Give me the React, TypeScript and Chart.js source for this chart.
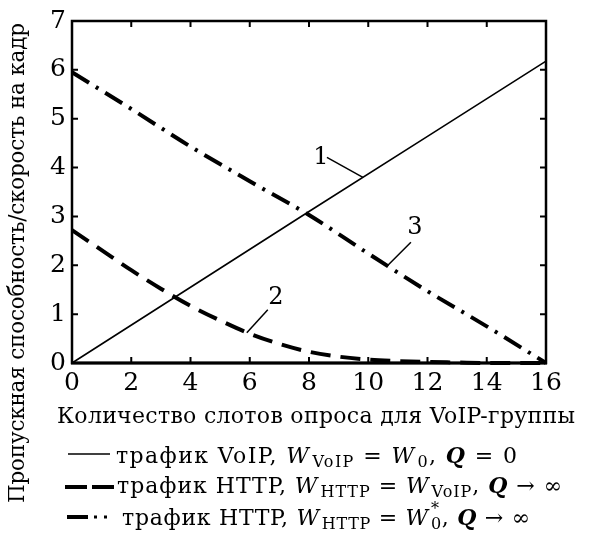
import React, { useEffect, useRef } from "react";
import { Chart, registerables } from "chart.js";

Chart.register(...registerables);

const FONT = "'DejaVu Serif', 'Liberation Serif', serif";

const xTicks = [0, 2, 4, 6, 8, 10, 12, 14, 16];
const yTicks = [0, 1, 2, 3, 4, 5, 6, 7];

const voipX = [0, 4, 8, 12, 16];
const voipY = [0, 1.55, 3.1, 4.64, 6.18];

const httpEqX = [0, 1, 2, 3, 4, 5, 6, 7, 8, 9, 10, 11, 12, 13, 14, 15, 16];
const httpEqY = [2.72, 2.31, 1.9, 1.52, 1.17, 0.87, 0.6, 0.39, 0.23, 0.13, 0.07, 0.04, 0.02, 0.01, 0, 0, 0];

const httpStarX = [0, 2, 4, 6, 8, 10, 12, 14, 16];
const httpStarY = [5.95, 5.2, 4.43, 3.72, 3.03, 2.24, 1.47, 0.75, 0];

const xTitle = "Количество слотов опроса для VoIP-группы";
const yTitle = "Пропускная способность/скорость на кадр";

// curve number labels: anchor on curve (data coords) + pixel offsets
const curveLabels = [
  { text: "1", ax: 9.82, ay: 3.8, lx: -36, ly: -20, tx: -42, ty: -20 },
  { text: "2", ax: 5.9, ay: 0.62, lx: 21, ly: -23, tx: 29, ty: -35 },
  { text: "3", ax: 10.63, ay: 1.98, lx: 24, ly: -24, tx: 28, ty: -38 },
];

type Run = [string, string];
const legendRow1: Run[] = [["трафик VoIP, ", "r"], ["W", "i"], ["VoIP", "sub"], [" = ", "r"], ["W", "i"], ["0", "sub"], [", ", "r"], ["Q", "bi"], [" = 0", "r"]];
const legendRow2: Run[] = [["трафик HTTP, ", "r"], ["W", "i"], ["HTTP", "sub"], [" = ", "r"], ["W", "i"], ["VoIP", "sub"], [", ", "r"], ["Q", "bi"], [" → ∞", "r"]];
const legendRow3: Run[] = [["трафик HTTP, ", "r"], ["W", "i"], ["HTTP", "sub"], [" = ", "r"], ["W", "i"], ["0", "subsup"], [", ", "r"], ["Q", "bi"], [" → ∞", "r"]];
const legendRows = [legendRow1, legendRow2, legendRow3];

const W = 589;
const H = 534;

function fontFor(kind: string) {
  if (kind === "i") return `italic 22px ${FONT}`;
  if (kind === "bi") return `italic bold 22px ${FONT}`;
  if (kind === "sub" || kind === "subsup") return `16px ${FONT}`;
  return `22px ${FONT}`;
}

function drawFitted(ctx: any, text: string, font: string, x: number, y: number, target: number) {
  ctx.font = font;
  ctx.letterSpacing = "0px";
  const w = ctx.measureText(text).width;
  const n = Array.from(text).length;
  const s = (target - w) / Math.max(1, n - 1);
  ctx.letterSpacing = `${s}px`;
  ctx.fillText(text, x, y);
  ctx.letterSpacing = "0px";
}

function drawRuns(ctx: any, runs: Run[], x0: number, base: number, target: number) {
  let natural = 0;
  let count = 0;
  ctx.letterSpacing = "0px";
  for (const [t, kind] of runs) {
    ctx.font = fontFor(kind);
    natural += ctx.measureText(t).width + (kind === "sub" || kind === "subsup" ? 2 : 0);
    count += Array.from(t).length;
  }
  const s = (target - natural) / Math.max(1, count - 1);
  let x = x0;
  for (const [t, kind] of runs) {
    ctx.font = fontFor(kind);
    ctx.letterSpacing = "0px";
    const wn = ctx.measureText(t).width;
    const adv = wn + s * Array.from(t).length;
    ctx.letterSpacing = `${s}px`;
    if (kind === "sub") {
      ctx.fillText(t, x + 2, base + 4);
      x += adv + 2;
    } else if (kind === "subsup") {
      ctx.fillText(t, x + 2, base + 4);
      ctx.fillText("*", x + 2, base - 11);
      x += adv + 2;
    } else {
      ctx.fillText(t, x, base);
      x += adv;
    }
  }
  ctx.letterSpacing = "0px";
}

const decorPlugin = {
  id: "decor",
  afterDatasetsDraw(chart: any) {
    const ctx = chart.ctx;
    const { left, right, top, bottom } = chart.chartArea;
    const xs = chart.scales.x;
    const ys = chart.scales.y;
    ctx.save();
    ctx.strokeStyle = "#000";
    ctx.setLineDash([]);
    // frame
    ctx.lineWidth = 2.5;
    ctx.strokeRect(left, top, right - left, bottom - top);
    ctx.lineWidth = 3;
    ctx.beginPath();
    ctx.moveTo(left - 1, bottom);
    ctx.lineTo(right + 1, bottom);
    ctx.stroke();
    // inward ticks
    ctx.lineWidth = 2;
    const tl = 6;
    ctx.beginPath();
    for (const v of xTicks) {
      const px = xs.getPixelForValue(v);
      ctx.moveTo(px, bottom);
      ctx.lineTo(px, bottom - tl);
      ctx.moveTo(px, top);
      ctx.lineTo(px, top + tl);
    }
    for (const v of yTicks) {
      const py = ys.getPixelForValue(v);
      ctx.moveTo(left, py);
      ctx.lineTo(left + tl, py);
      ctx.moveTo(right, py);
      ctx.lineTo(right - tl, py);
    }
    ctx.stroke();

    // curve labels
    ctx.lineWidth = 1.5;
    ctx.fillStyle = "#000";
    ctx.font = `24px ${FONT}`;
    ctx.textAlign = "center";
    ctx.textBaseline = "middle";
    for (const c of curveLabels) {
      const ax = xs.getPixelForValue(c.ax);
      const ay = ys.getPixelForValue(c.ay);
      ctx.beginPath();
      ctx.moveTo(ax, ay);
      ctx.lineTo(ax + c.lx, ay + c.ly);
      ctx.stroke();
      ctx.fillText(c.text, ax + c.tx, ay + c.ty);
    }
    ctx.restore();
  },
  afterDraw(chart: any) {
    const ctx = chart.ctx;
    ctx.save();
    ctx.fillStyle = "#000";
    ctx.strokeStyle = "#000";
    // y title (reads bottom to top)
    ctx.translate(24, 503);
    ctx.rotate(-Math.PI / 2);
    ctx.textAlign = "left";
    ctx.textBaseline = "alphabetic";
    drawFitted(ctx, yTitle, `21.5px ${FONT}`, 0, 0, 480);
    ctx.restore();

    ctx.save();
    ctx.fillStyle = "#000";
    ctx.strokeStyle = "#000";
    ctx.textAlign = "left";
    ctx.textBaseline = "alphabetic";
    drawFitted(ctx, xTitle, `22px ${FONT}`, 57, 423, 518);

    // legend samples
    ctx.lineWidth = 1.6;
    ctx.beginPath();
    ctx.moveTo(68, 454);
    ctx.lineTo(110, 454);
    ctx.stroke();
    ctx.lineWidth = 4;
    ctx.setLineDash([22, 5]);
    ctx.beginPath();
    ctx.moveTo(65, 487);
    ctx.lineTo(115, 487);
    ctx.stroke();
    ctx.setLineDash([]);
    ctx.beginPath();
    ctx.moveTo(67, 517);
    ctx.lineTo(88, 517);
    ctx.stroke();
    ctx.fillRect(94, 515.5, 3, 3);
    ctx.fillRect(104, 515.5, 3, 3);

    // legend texts
    const starts = [116, 117, 122];
    const ends = [517, 562, 530];
    const bases = [463, 493, 525];
    legendRows.forEach((runs, i) => {
      drawRuns(ctx, runs, starts[i], bases[i], ends[i] - starts[i]);
    });
    ctx.restore();
  },
};

export default function App() {
  const ref = useRef<HTMLCanvasElement | null>(null);
  useEffect(() => {
    if (!ref.current) return;
    const mk = (xsArr: number[], ysArr: number[]) => xsArr.map((x, i) => ({ x, y: ysArr[i] }));
    const chart = new Chart(ref.current, {
      type: "line",
      data: {
        datasets: [
          {
            data: mk(voipX, voipY),
            borderColor: "#000",
            borderWidth: 1.6,
            pointRadius: 0,
            clip: false,
          } as any,
          {
            data: mk(httpEqX, httpEqY),
            borderColor: "#000",
            borderWidth: 4,
            borderDash: [20, 10],
            pointRadius: 0,
            cubicInterpolationMode: "monotone",
            clip: false,
          },
          {
            data: mk(httpStarX, httpStarY),
            borderColor: "#000",
            borderWidth: 4,
            borderDash: [20, 8, 3, 8],
            pointRadius: 0,
            cubicInterpolationMode: "monotone",
            clip: false,
          },
        ],
      },
      options: {
        animation: false,
        responsive: false,
        maintainAspectRatio: false,
        layout: { padding: { top: 19, right: 43, left: 0, bottom: 0 } },
        plugins: { legend: { display: false }, tooltip: { enabled: false } },
        scales: {
          x: {
            type: "linear",
            min: 0,
            max: 16,
            afterBuildTicks: (s: any) => {
              s.ticks = xTicks.map((v) => ({ value: v }));
            },
            afterFit: (s: any) => {
              s.height = 171;
            },
            ticks: { font: { family: FONT, size: 25 }, color: "#000", padding: 5, maxRotation: 0, autoSkip: false },
            grid: { display: false, drawTicks: false },
            border: { display: false },
          },
          y: {
            type: "linear",
            min: 0,
            max: 7,
            afterBuildTicks: (s: any) => {
              s.ticks = yTicks.map((v) => ({ value: v }));
            },
            afterFit: (s: any) => {
              s.width = 72;
            },
            ticks: { font: { family: FONT, size: 25 }, color: "#000", padding: 6, autoSkip: false },
            grid: { display: false, drawTicks: false },
            border: { display: false },
          },
        },
      },
      plugins: [decorPlugin],
    });
    return () => chart.destroy();
  }, []);
  return (
    <div style={{ position: "absolute", left: 0, top: 0, width: W, height: H, background: "#fff" }}>
      <canvas ref={ref} width={W} height={H} style={{ width: W, height: H }} />
    </div>
  );
}
